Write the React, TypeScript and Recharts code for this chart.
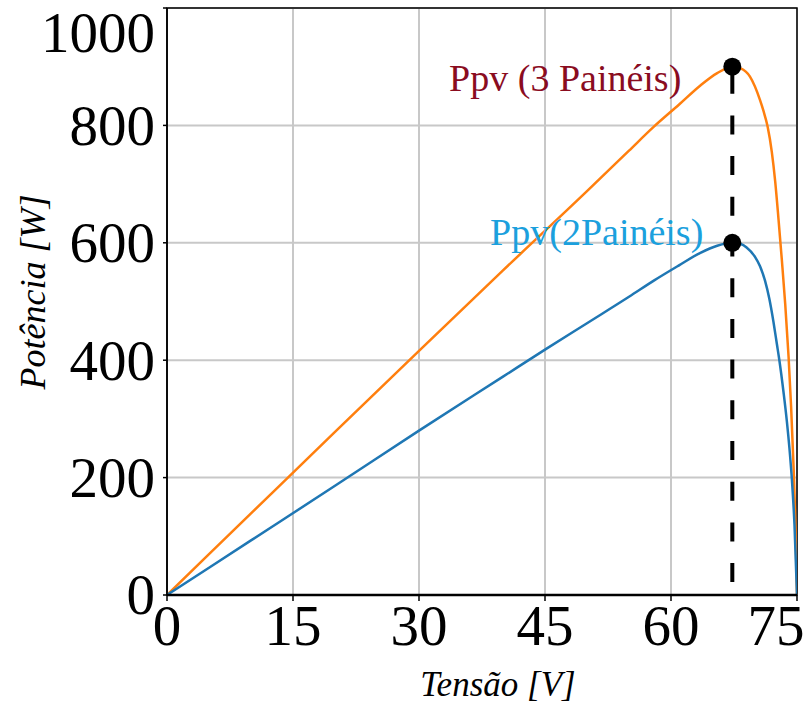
import {
  CartesianGrid,
  Line,
  LineChart,
  ReferenceArea,
  ReferenceDot,
  ReferenceLine,
  XAxis,
  YAxis,
} from "recharts";

const WIDTH = 810;
const HEIGHT = 711;
const SERIF = '"Liberation Serif", "Times New Roman", serif';

// tensão [V] / potência [W] para 3 painéis
const voltage3 = [0, 10, 20, 30, 40, 50, 55, 57.9, 61, 63.5, 65.5, 67.3, 68.3, 69.4, 70.6, 71.0, 71.5, 72.0, 72.4, 72.8, 73.2, 73.6, 74.0, 74.3, 74.6, 74.8, 75];
const power3 = [0, 139, 278, 416, 553, 688, 757, 797, 836, 868, 889, 900, 897, 883, 843, 825, 798, 755, 705, 640, 570, 495, 405, 320, 215, 130, 0];

// tensão [V] / potência [W] para 2 painéis
const voltage2 = [0, 10, 20, 30, 40, 45, 50, 55, 58, 61, 63.5, 65.5, 67.3, 68.3, 69.0, 70.0, 70.6, 71.2, 71.7, 72.2, 72.6, 72.9, 73.4, 73.8, 74.1, 74.4, 74.7, 75];
const power2 = [0, 93, 186, 280, 372, 418, 463, 508, 536, 562, 583, 595, 600, 598, 592, 576, 560, 535, 505, 465, 428, 400, 345, 295, 250, 195, 120, 0];

// ponto de máxima potência
const mppVoltage = 67.3;
const mppPower3 = 900;
const mppPower2 = 600;

const xTicks = [0, 15, 30, 45, 60, 75];
const yTicks = [0, 200, 400, 600, 800, 1000];

const series3 = voltage3.map((v, i) => ({ v, p: power3[i] }));
const series2 = voltage2.map((v, i) => ({ v, p: power2[i] }));

const TICK_FONT = 57;

function XTick({ x, y, payload }: any) {
  // keep the last label inside the canvas
  const tx = Math.min(x, WIDTH - 34);
  return (
    <text x={tx} y={y} dy="0.71em" textAnchor="middle" fontFamily={SERIF} fontSize={TICK_FONT} fill="#000">
      {payload.value}
    </text>
  );
}

function YTick({ x, y, payload }: any) {
  // same for the top label
  const ty = Math.max(y, 33);
  return (
    <text x={x} y={ty} dy="0.34em" textAnchor="end" fontFamily={SERIF} fontSize={TICK_FONT} fill="#000">
      {payload.value}
    </text>
  );
}

const peakLabel = (text: string, color: string, dx: number, dy: number) => (props: any) => {
  const vb = props.viewBox;
  const cx = vb.x + vb.width / 2;
  const cy = vb.y + vb.height / 2;
  return (
    <text x={cx + dx} y={cy + dy} textAnchor="end" fontFamily={SERIF} fontSize={38} fill={color}>
      {text}
    </text>
  );
};

const xTitle = (props: any) => {
  const vb = props.viewBox;
  return (
    <text x={vb.x + vb.width / 2 + 16} y={696} textAnchor="middle" fontFamily={SERIF} fontStyle="italic" fontSize={35} fill="#000">
      Tensão [V]
    </text>
  );
};

const yTitle = () => (
  <text x={45} y={292} transform="rotate(-90, 45, 292)" textAnchor="middle" fontFamily={SERIF} fontStyle="italic" fontSize={36} fill="#000">
    Potência [W]
  </text>
);

export default function App() {
  return (
    <div style={{ position: "absolute", left: 0, top: 0, width: WIDTH, height: HEIGHT, background: "#fff" }}>
      <LineChart width={WIDTH} height={HEIGHT} margin={{ top: 8, right: 13, bottom: 0, left: 0 }}>
        <CartesianGrid stroke="#c8c8c8" strokeWidth={2} />
        <XAxis
          type="number"
          dataKey="v"
          domain={[0, 75]}
          ticks={xTicks}
          height={116}
          tickSize={6}
          tickMargin={4}
          tick={<XTick />}
          tickLine={{ stroke: "#000", strokeWidth: 1.5 }}
          axisLine={{ stroke: "#000", strokeWidth: 2.5 }}
          allowDataOverflow
          label={{ content: xTitle }}
        />
        <YAxis
          type="number"
          dataKey="p"
          domain={[0, 1000]}
          ticks={yTicks}
          width={167}
          tickSize={4}
          tickMargin={8}
          tick={<YTick />}
          tickLine={{ stroke: "#000", strokeWidth: 1.5 }}
          axisLine={{ stroke: "#000", strokeWidth: 1.5 }}
          label={{ content: yTitle }}
        />
        <ReferenceArea x1={0} x2={75} y1={0} y2={1000} fill="none" stroke="#000" strokeWidth={1.5} />
        <Line
          data={series3}
          dataKey="p"
          type="monotone"
          stroke="#ff7f0e"
          strokeWidth={2.5}
          dot={false}
          isAnimationActive={false}
        />
        <Line
          data={series2}
          dataKey="p"
          type="monotone"
          stroke="#1f77b4"
          strokeWidth={2.5}
          dot={false}
          isAnimationActive={false}
        />
        <ReferenceLine
          segment={[
            { x: mppVoltage, y: mppPower3 },
            { x: mppVoltage, y: 0 },
          ]}
          stroke="#000"
          strokeWidth={4}
          strokeDasharray="19 21.7"
          strokeDashoffset={-8}
        />
        <ReferenceDot
          x={mppVoltage}
          y={mppPower3}
          r={9}
          fill="#000"
          stroke="none"
          label={{ content: peakLabel("Ppv (3 Painéis)", "#8a0c1f", -51, 24) }}
        />
        <ReferenceDot
          x={mppVoltage}
          y={mppPower2}
          r={9}
          fill="#000"
          stroke="none"
          label={{ content: peakLabel("Ppv(2Painéis)", "#1ba0dd", -29, 2) }}
        />
      </LineChart>
    </div>
  );
}
